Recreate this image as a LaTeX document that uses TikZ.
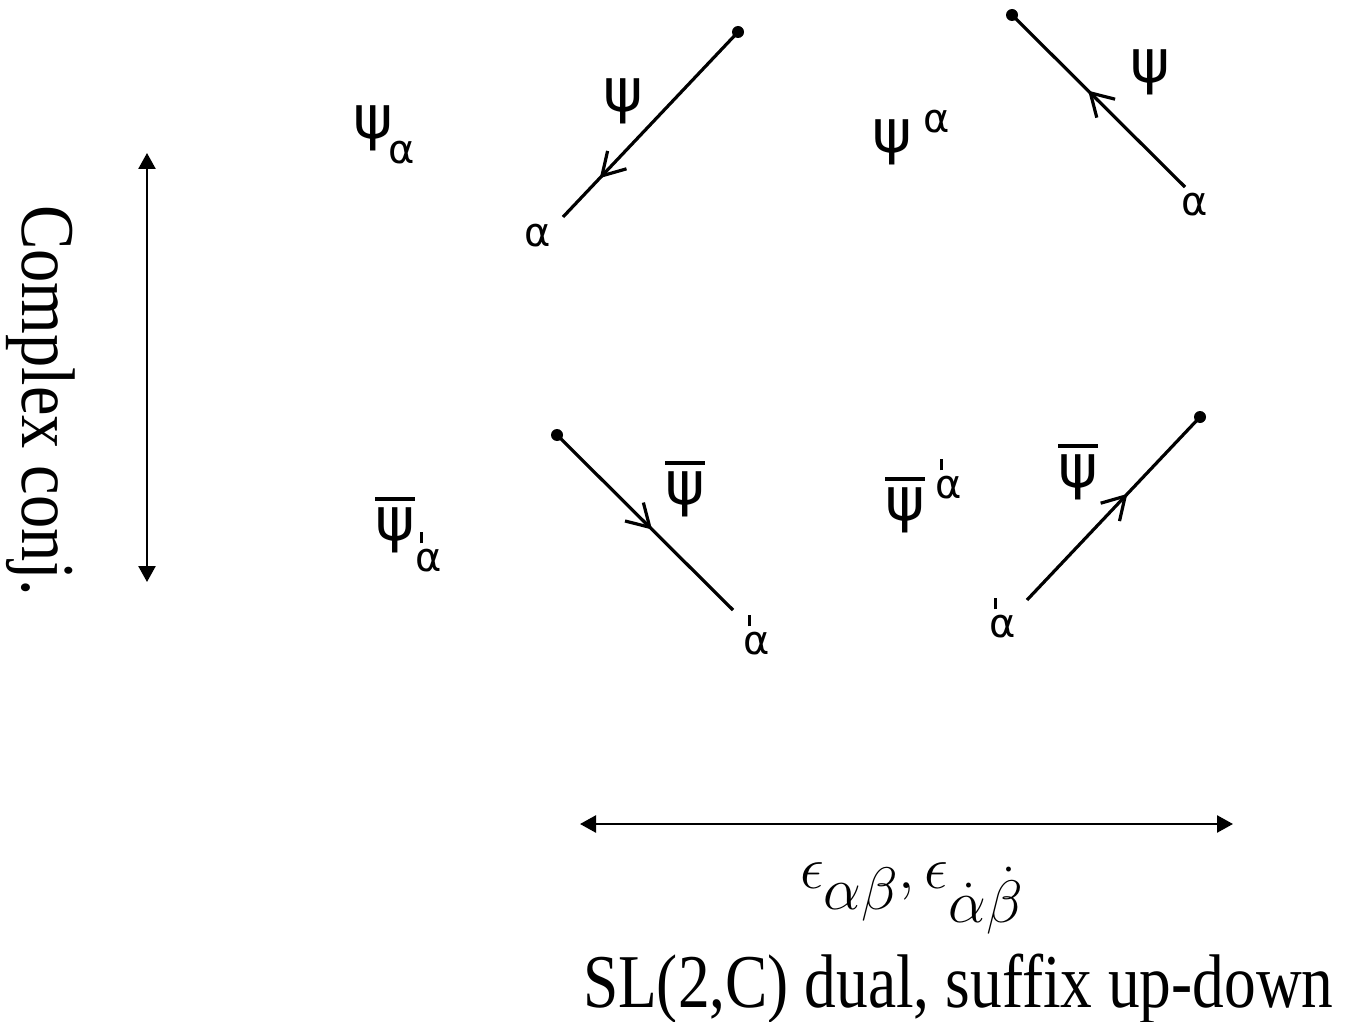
\RequirePackage{fix-cm}
\documentclass[tikz,border=0pt]{standalone}
\usepackage{fontspec}
\setmainfont{Liberation Serif}
\newfontfamily\gk{DejaVu Sans}
\usetikzlibrary{arrows.meta,decorations.markings}
\newcommand\adot{\makebox[0pt][l]{\hspace{0.1em}\rule[0.7em]{0.08em}{0.28em}}α}
\newcommand\psib{\vbox{\hrule height 4pt\kern 6pt\hbox{ψ}}}
\begin{document}
\begin{tikzpicture}[x=1pt,y=-1pt,
  every node/.style={inner sep=0pt,outer sep=0pt},
  gkbig/.style={font=\gk\fontsize{60}{60}\selectfont},
  gksmall/.style={font=\gk\fontsize{40}{40}\selectfont},
  ln/.style={line width=3.2pt},
  dotnode/.style={circle,fill,minimum size=12pt},
  midarrow/.style={decoration={markings,mark=at position #1 with {\arrow{Straight Barb[length=22pt,width=26pt]}}},postaction=decorate},
  midarrowrev/.style={decoration={markings,mark=at position #1 with {\arrowreversed{Straight Barb[length=22pt,width=26pt]}}},postaction=decorate},
  dbl/.style={line width=2.5pt,{Triangle[length=16pt,width=17pt]}-{Triangle[length=16pt,width=17pt]}},
  bigtext/.style={font=\fontsize{76}{76}\selectfont}]
\useasboundingbox (0,0) rectangle (1347,1022);
% left index labels
\node[gkbig] (psiA) at (373,128) {ψ};
\node[gksmall] (psiAi) at (402,153) {α};
\node[gkbig] (psiB) at (892,142) {ψ};
\node[gksmall] (psiBi) at (937,122) {α};
\node[gkbig] (psiC) at (395,525) {\psib};
\node[gksmall] (psiCi) at (429,552) {\adot};
\node[gkbig] (psiD) at (905,505) {\psib};
\node[gksmall] (psiDi) at (949,479) {\adot};
% line diagrams
\node[dotnode] (d1) at (738,32) {};
\coordinate (e1) at (563,217);
\draw[ln,midarrow=0.79] (d1.center) -- (e1);
\node[gkbig] (lab1) at (623,101) {ψ};
\node[gksmall] (a1) at (538,236) {α};
\node[dotnode] (d2) at (1012,15) {};
\coordinate (e2) at (1185,187);
\draw[ln,midarrowrev=0.44] (d2.center) -- (e2);
\node[gkbig] (lab2) at (1150,72) {ψ};
\node[gksmall] (a2) at (1195,205) {α};
\node[dotnode] (d3) at (557,435) {};
\coordinate (e3) at (733,610);
\draw[ln,midarrow=0.54] (d3.center) -- (e3);
\node[gkbig] (lab3) at (685,489) {\psib};
\node[gksmall] (a3) at (757,635) {\adot};
\node[dotnode] (d4) at (1200,417) {};
\coordinate (e4) at (1027,600);
\draw[ln,midarrowrev=0.42] (d4.center) -- (e4);
\node[gkbig] (lab4) at (1078,472) {\psib};
\node[gksmall] (a4) at (1003,618) {\adot};
% double arrows
\coordinate (vt) at (147,153);
\coordinate (vb) at (147,582);
\draw[dbl] (vt) -- (vb);
\node[bigtext,rotate=-90,anchor=base west] (cc) at (22,205) {\scalebox{0.875}[1]{Complex conj.}};
\coordinate (hl) at (580,824);
\coordinate (hr) at (1233,824);
\draw[dbl] (hl) -- (hr);
\node[font=\fontsize{60}{60}\selectfont,anchor=base west] (eps) at (800,888) {$\epsilon_{\textstyle\alpha\beta},\epsilon_{\textstyle\dot\alpha\dot\beta}$};
\node[bigtext,anchor=base west] (sl) at (583,1007) {\scalebox{0.834}[1]{SL(2,C) dual, suffix up-down}};
\end{tikzpicture}
\end{document}
